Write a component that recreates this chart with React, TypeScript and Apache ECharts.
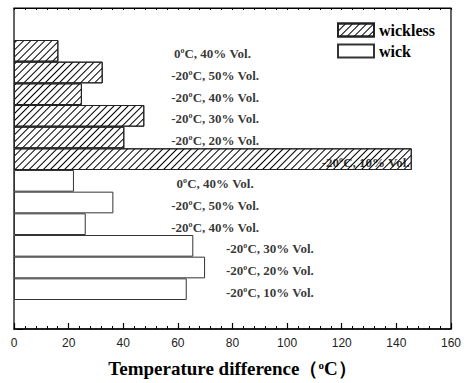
import React, { useEffect, useRef } from "react";
import * as echarts from "echarts";

const categories = ["w1", "w2", "w3", "w4", "w5", "w6", "k1", "k2", "k3", "k4", "k5", "k6"];
const wicklessValues = [16.2, 32.4, 24.8, 47.6, 40.3, 145.3];
const wickValues = [21.9, 36.3, 26.2, 65.5, 69.8, 63.1];
const barLabels = [
  "0{sup|o}C, 40% Vol.",
  "-20{sup|o}C, 50% Vol.",
  "-20{sup|o}C, 40% Vol.",
  "-20{sup|o}C, 30% Vol.",
  "-20{sup|o}C, 20% Vol.",
  "-20{sup|o}C, 10% Vol.",
  "0{sup|o}C, 40% Vol.",
  "-20{sup|o}C, 50% Vol.",
  "-20{sup|o}C, 40% Vol.",
  "-20{sup|o}C, 30% Vol.",
  "-20{sup|o}C, 20% Vol.",
  "-20{sup|o}C, 10% Vol.",
];
const labelCenters = [72.5, 73.5, 73.5, 73.5, 73.5, 128.5, 73.5, 73.5, 73.5, 93.5, 93.5, 93.5];
const xTicks = { min: 0, max: 160, interval: 20 };

const SERIF = "Liberation Serif";

export default function App() {
  const ref = useRef<HTMLDivElement>(null);
  useEffect(() => {
    document.body.style.margin = "0";
    const chart = echarts.init(ref.current!, null, { renderer: "svg" });
    const wicklessData = categories.map((_, i) => (i < wicklessValues.length ? wicklessValues[i] : "-"));
    const wickData = categories.map((_, i) =>
      i >= wicklessValues.length ? wickValues[i - wicklessValues.length] : "-"
    );
    const labelData = categories.map((c, i) => [labelCenters[i], c]);
    chart.setOption({
      animation: false,
      backgroundColor: "#fff",
      textStyle: { fontFamily: SERIF },
      grid: [
        { left: 14, right: 12, top: 8, bottom: 52, show: true, borderColor: "#000", borderWidth: 1.2, backgroundColor: "transparent" },
        { left: 14, right: 12, top: 40, bottom: 83 },
      ],
      legend: {
        left: 337,
        top: 22,
        padding: 0,
        orient: "vertical",
        icon: "rect",
        itemWidth: 36,
        itemHeight: 13,
        itemGap: 5,
        formatter: (name: string) => "{t|" + name + "}",
        textStyle: {
          fontFamily: SERIF,
          fontWeight: "bold",
          fontSize: 16,
          color: "#000",
          rich: { t: { fontFamily: SERIF, fontWeight: "bold", fontSize: 16, color: "#000" } },
        },
        data: ["wickless", "wick"],
      },
      xAxis: [
        {
          gridIndex: 0,
          type: "value",
          min: xTicks.min,
          max: xTicks.max,
          interval: xTicks.interval,
          position: "bottom",
          axisLine: { show: true, lineStyle: { color: "#000", width: 1.5 } },
          axisTick: { show: true, inside: true, length: 6, lineStyle: { color: "#000", width: 1.2 } },
          minorTick: { show: true, splitNumber: 5, length: 3, lineStyle: { color: "#000", width: 1 } },
          splitLine: { show: false },
          minorSplitLine: { show: false },
          axisLabel: { fontFamily: "Liberation Sans", fontSize: 12, color: "#222", margin: 8 },
          name: "Temperature difference\uFF08{sup|o}C\uFF09",
          nameLocation: "middle",
          nameGap: 30,
          nameTextStyle: {
            fontFamily: SERIF,
            fontWeight: "bold",
            fontSize: 19,
            color: "#000",
            rich: { sup: { fontFamily: SERIF, fontWeight: "bold", fontSize: 11, verticalAlign: "top", padding: [0, 0, 8, 0] } },
          },
        },
        {
          gridIndex: 1,
          type: "value",
          min: xTicks.min,
          max: xTicks.max,
          show: false,
          splitLine: { show: false },
        },
        {
          gridIndex: 0,
          type: "value",
          min: xTicks.min,
          max: xTicks.max,
          interval: xTicks.interval,
          position: "top",
          axisLine: { show: true, lineStyle: { color: "#000", width: 1.2 } },
          axisTick: { show: true, inside: true, length: 2, lineStyle: { color: "#000" } },
          minorTick: { show: true, splitNumber: 5, length: 2, lineStyle: { color: "#000" } },
          axisLabel: { show: false },
          splitLine: { show: false },
        },
      ],
      yAxis: [
        {
          gridIndex: 0,
          type: "value",
          position: "right",
          offset: -3,
          min: 0,
          max: 2,
          interval: 1,
          axisLine: { show: false },
          axisTick: { show: true, length: 6, lineStyle: { color: "#000" } },
          axisLabel: { show: false },
          splitLine: { show: false },
        },
        {
          gridIndex: 1,
          type: "category",
          data: categories,
          inverse: true,
          show: false,
        },
      ],
      series: [
        {
          name: "wickless",
          type: "bar",
          xAxisIndex: 1,
          yAxisIndex: 1,
          stack: "all",
          barWidth: "100%",
          data: wicklessData,
          itemStyle: {
            color: "#fff",
            borderColor: "#222",
            borderWidth: 1,
            decal: {
              symbol: "rect",
              symbolSize: 1,
              color: "#000",
              dashArrayX: [1, 0],
              dashArrayY: [1, 4],
              rotation: -Math.PI / 4,
            },
          },
        },
        {
          name: "wick",
          type: "bar",
          xAxisIndex: 1,
          yAxisIndex: 1,
          stack: "all",
          barWidth: "100%",
          data: wickData,
          itemStyle: { color: "#fff", borderColor: "#333", borderWidth: 1 },
        },
        {
          name: "labels",
          type: "scatter",
          xAxisIndex: 1,
          yAxisIndex: 1,
          symbolSize: 1,
          itemStyle: { color: "rgba(0,0,0,0)" },
          data: labelData,
          z: 5,
          label: {
            show: true,
            position: "inside",
            offset: [0, 3],
            formatter: (p: any) => barLabels[p.dataIndex],
            fontFamily: SERIF,
            fontWeight: "bold",
            fontSize: 13,
            color: "#000",
            rich: { sup: { fontFamily: SERIF, fontWeight: "bold", fontSize: 8, verticalAlign: "top", padding: [0, 0, 6, 0] } },
          },
        },
      ],
    });
    return () => chart.dispose();
  }, []);
  return <div ref={ref} style={{ width: 464, height: 383 }} />;
}
